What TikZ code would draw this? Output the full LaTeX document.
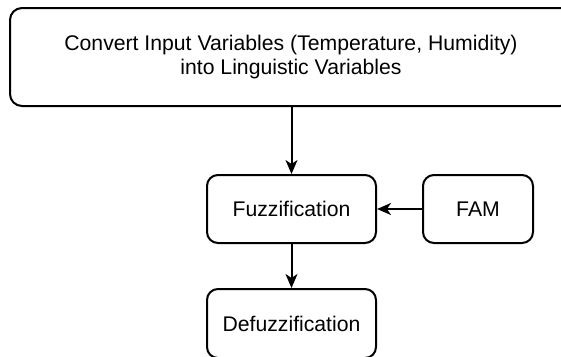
\documentclass[tikz,border=0pt]{standalone}
\usepackage{fontspec}
\setmainfont{Liberation Sans}
\usetikzlibrary{arrows.meta}
\begin{document}
\begin{tikzpicture}[x=1pt,y=-1pt,
  box/.style={draw=black, line width=2pt, rounded corners=11pt, fill=white,
    inner sep=0pt, align=center, font=\fontsize{21.2}{24}\selectfont},
  flow/.style={draw=black, line width=2pt,
    -{Stealth[length=14pt, width=12pt, inset=4pt]}}]
  \useasboundingbox (0,0) rectangle (561,356);
  \clip (0,0) rectangle (561,356);
  \fill[white] (0,0) rectangle (561,356);

  \node[box, minimum width=562pt, minimum height=98pt, rounded corners=12pt]
    (convert) at (291,57)
    {Convert Input Variables (Temperature, Humidity)\\into Linguistic Variables};
  \node[box, minimum width=169pt, minimum height=68pt] (fuzz) at (291.5,209) {Fuzzification};
  \node[box, minimum width=110pt, minimum height=68pt] (fam) at (478,209) {FAM};
  \node[box, minimum width=169pt, minimum height=69pt] (defuzz) at (291.5,323.5) {Defuzzification};

  \draw[flow] (convert.south -| fuzz.north) -- (fuzz.north);
  \draw[flow] (fam.west) -- (fuzz.east);
  \draw[flow] (fuzz.south) -- (defuzz.north);
\end{tikzpicture}
\end{document}
